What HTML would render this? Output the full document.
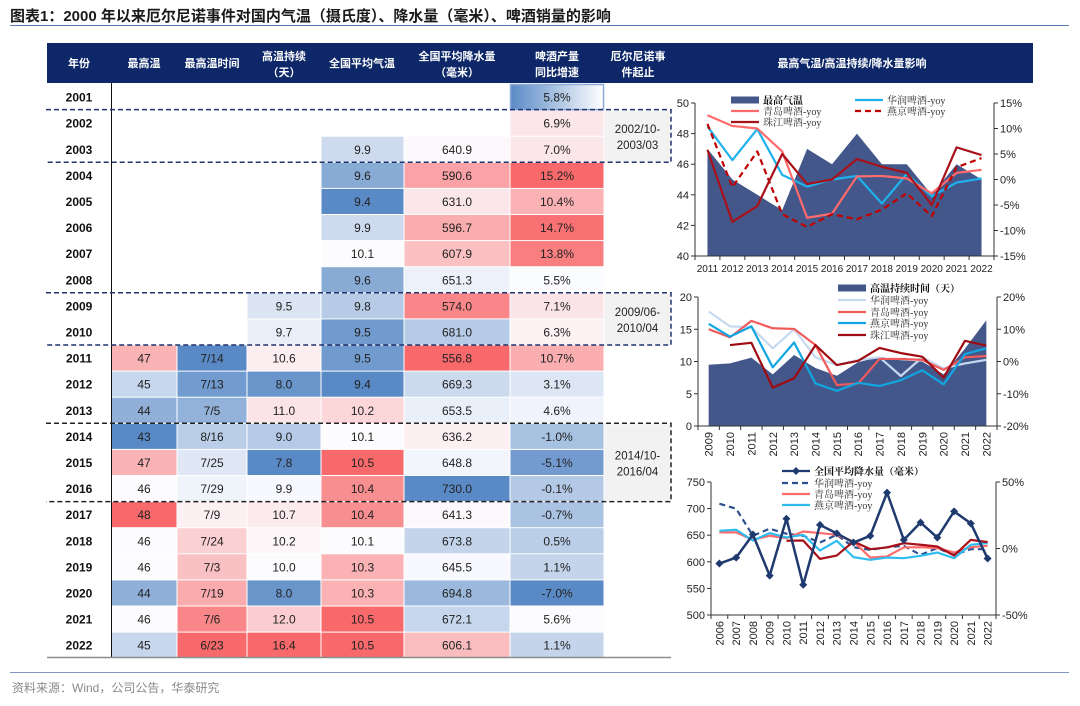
<!DOCTYPE html>
<html><head><meta charset="utf-8">
<style>
html,body{margin:0;padding:0;background:#fff;}
body{width:1080px;height:701px;overflow:hidden;position:relative;font-family:"Liberation Sans","Noto Sans CJK SC",sans-serif;}
svg text{font-family:"Liberation Sans","Noto Sans CJK SC",sans-serif;}
.cn{font-family:"Liberation Serif","Noto Serif CJK SC",serif;}
</style></head>
<body>
<svg id="page" width="1080" height="701" viewBox="0 0 1080 701" xmlns="http://www.w3.org/2000/svg">
  <text x="10" y="21" font-size="15" font-weight="bold" fill="#1a1a1a">图表1：2000 年以来厄尔尼诺事件对国内气温（摄氏度）、降水量（毫米）、啤酒销量的影响</text>
  <line x1="10" y1="25.5" x2="1069" y2="25.5" stroke="#5a7bb0" stroke-width="1"/>
  <rect x="47" y="43" width="986" height="40" fill="#0d2768"/>
  <g class="cn" fill="#fff" font-size="11" font-weight="bold" text-anchor="middle">
    <text x="79" y="67">年份</text>
    <text x="144" y="67">最高温</text>
    <text x="212" y="67">最高温时间</text>
    <text x="284" y="60">高温持续</text>
    <text x="284" y="76">（天）</text>
    <text x="362" y="67">全国平均气温</text>
    <text x="457" y="60">全国平均降水量</text>
    <text x="457" y="76">（毫米）</text>
    <text x="557" y="60">啤酒产量</text>
    <text x="557" y="76">同比增速</text>
    <text x="638" y="60">厄尔尼诺事</text>
    <text x="638" y="76">件起止</text>
    <text x="852" y="67">最高气温/高温持续/降水量影响</text>
  </g>
  <g id="table"></g>
  <g id="charts"></g>
  <line x1="10" y1="672.5" x2="1069" y2="672.5" stroke="#7f96c0" stroke-width="1"/>
  <text x="12" y="692" font-size="12" fill="#8a8a8a">资料来源：Wind，公司公告，华泰研究</text>
</svg>
<script>
// ---------- table data ----------
const tableYears = [2001,2002,2003,2004,2005,2006,2007,2008,2009,2010,2011,2012,2013,2014,2015,2016,2017,2018,2019,2020,2021,2022];
const maxTemp = [null,null,null,null,null,null,null,null,null,null,47,45,44,43,47,46,48,46,46,44,46,45];
const maxTempDate = [null,null,null,null,null,null,null,null,null,null,'7/14','7/13','7/5','8/16','7/25','7/29','7/9','7/24','7/3','7/19','7/6','6/23'];
const maxTempDateShade = [0,0,0,0,0,0,0,0,0,0,-1,-0.85,-0.65,-0.4,-0.18,-0.08,0.08,0.3,0.4,0.55,0.8,1];
const heatDays = [null,null,null,null,null,null,null,null,9.5,9.7,10.6,8.0,11.0,9.0,7.8,9.9,10.7,10.2,10.0,8.0,12.0,16.4];
const avgTemp = [null,null,9.9,9.6,9.4,9.9,10.1,9.6,9.8,9.5,9.5,9.4,10.2,10.1,10.5,10.4,10.4,10.1,10.3,10.3,10.5,10.5];
const rainfall = [null,null,640.9,590.6,631.0,596.7,607.9,651.3,574.0,681.0,556.8,669.3,653.5,636.2,648.8,730.0,641.3,673.8,645.5,694.8,672.1,606.1];
const beerYoy = [5.8,6.9,7.0,15.2,10.4,14.7,13.8,5.5,7.1,6.3,10.7,3.1,4.6,-1.0,-5.1,-0.1,-0.7,0.5,1.1,-7.0,5.6,1.1];
const elninoLabels = [['2002/10-','2003/03'],['2009/06-','2010/04'],['2014/10-','2016/04']];
const elninoRows = [[1,2],[8,9],[13,15]];

// ---------- chart 1 data ----------
const c1Years = [2011,2012,2013,2014,2015,2016,2017,2018,2019,2020,2021,2022];
const c1MaxTemp = [47,45,44,43,47,46,48,46,46,44,46,45];
const c1Huarun = [10.4,3.8,9.9,0.9,-1.4,0,0.7,-4.7,1.1,-3.3,-0.6,0.2];
const c1Tsingtao = [12.6,10.5,10.0,5.5,-7.5,-6.7,0.6,0.7,0.2,-2.7,1.3,1.9];
const c1Yanjing = [10.9,-1.5,5.5,-6.8,-9.3,-6.8,-7.8,-5.9,-2.7,-7.2,2.4,4.2];
const c1Zhujiang = [5.8,-8.3,-5.2,5.0,-0.9,0,4.0,2.5,1.3,-5.0,6.3,4.8];
const c1LeftTicks = [40,42,44,46,48,50];
const c1RightTicks = [-15,-10,-5,0,5,10,15];

// ---------- chart 2 data ----------
const c2Years = [2009,2010,2011,2012,2013,2014,2015,2016,2017,2018,2019,2020,2021,2022];
const c2HeatDays = [9.5,9.7,10.6,8.0,11.0,9.0,7.8,9.9,10.7,10.2,10.0,8.0,12.0,16.4];
const c2Huarun = [15.5,10.9,10.6,4.1,10.0,1.3,-1.1,0.5,1.3,-4.5,1.3,-2.1,-0.6,0.5];
const c2Tsingtao = [10.0,7.5,12.6,10.3,10.1,5.1,-7.3,-6.8,0.8,0.8,0.5,-2.6,1.3,1.7];
const c2Yanjing = [11.7,7.7,10.9,-1.8,5.9,-6.8,-9.1,-6.6,-7.6,-5.8,-2.7,-7.1,2.3,4.1];
const c2Zhujiang = [null,5.1,5.8,-8.1,-5.2,5.1,-1.1,0.2,4.2,2.6,1.5,-5.0,6.4,4.9];
const c2LeftTicks = [0,5,10,15,20];
const c2RightTicks = [-20,-10,0,10,20];

// ---------- chart 3 data ----------
const c3Years = [2006,2007,2008,2009,2010,2011,2012,2013,2014,2015,2016,2017,2018,2019,2020,2021,2022];
const c3Rain = [596.7,607.9,651.3,574.0,681.0,556.8,669.3,653.5,636.2,648.8,730.0,641.3,673.8,645.5,694.8,672.1,606.1];
const c3Huarun = [33.7,29.9,9.6,14.9,11.1,9.6,4.5,10.3,1.0,-1.0,1.0,2.0,-4.8,0.3,-4.8,-0.5,-0.5];
const c3Tsingtao = [12.1,12.1,6.5,9.6,7.8,12.8,11.6,10.3,5.3,-6.8,-6.0,0.8,1.0,0.3,-3.0,1.0,2.0];
const c3Yanjing = [13.3,14.1,6.0,11.6,8.3,10.3,-1.5,5.8,-6.5,-8.5,-6.8,-7.3,-5.5,-3.0,-7.3,2.8,4.0];
const c3Zhujiang = [null,null,null,null,5.8,6.0,-7.8,-5.3,5.3,-0.5,0.8,4.0,2.8,1.5,-5.3,6.5,4.8];
const c3LeftTicks = [500,550,600,650,700,750];
const c3RightTicks = [-50,0,50];

const NS = 'http://www.w3.org/2000/svg';
function mk(tag, attrs, parent){
  const e = document.createElementNS(NS, tag);
  for (const k in attrs) e.setAttribute(k, attrs[k]);
  parent.appendChild(e);
  return e;
}

// ---------- table ----------
const tbl = document.getElementById('table');
const colEdges = [47,111,177,247,321,404,510,604,671];
const rowTop = 84, rowH = 26.1;
const BLUE = [90,138,198], WHITE = [252,252,255], RED = [248,105,107];
function mix(a,b,t){return 'rgb('+a.map((v,i)=>Math.round(v+(b[i]-v)*t)).join(',')+')';}
function shadeColor(s){ return s<0 ? mix(WHITE,BLUE,-s) : mix(WHITE,RED,s); }
function scaleShades(vals, invert){
  const v = vals.filter(x=>x!==null).slice().sort((a,b)=>a-b);
  const n=v.length, mn=v[0], mx=v[n-1];
  const med = n%2 ? v[(n-1)/2] : (v[n/2-1]+v[n/2])/2;
  const sg = invert ? -1 : 1;
  return vals.map(x=> x===null?null : sg*(x<med ? -(med-x)/(med-mn) : (x-med)/(mx-med)));
}
function fmt(col,v){
  if (v===null) return '';
  if (col===1 || col===2) return String(v);
  if (col===6) return v.toFixed(1)+'%';
  return v.toFixed(1);
}
const cols = [null, maxTemp, maxTempDate, heatDays, avgTemp, rainfall, beerYoy];
const shades = [null, scaleShades(maxTemp), maxTempDateShade, scaleShades(heatDays), scaleShades(avgTemp), scaleShades(rainfall, true), scaleShades(beerYoy)];
const colNames = ['year','max-temp','max-temp-date','heat-days','avg-temp','rainfall','beer-yoy'];

const defs = mk('defs', {}, document.getElementById('page'));
const grad = mk('linearGradient', {id:'g58', x1:'0', x2:'1', y1:'0', y2:'0'}, defs);
mk('stop', {offset:'0', 'stop-color':'#5a8ac6'}, grad);
mk('stop', {offset:'1', 'stop-color':'#ffffff'}, grad);

tableYears.forEach((yr,i)=>{
  const y = rowTop + i*rowH;
  const yl = mk('text', {x:79, y:y+rowH/2+4.5, 'font-size':12, 'font-weight':'bold', 'text-anchor':'middle', fill:'#111'}, tbl);
  
  
  yl.textContent = yr;
  for (let c=1;c<=6;c++){
    const v = cols[c][i];
    if (v===null) continue;
    const x0 = colEdges[c], x1 = colEdges[c+1];
    let fill = shadeColor(shades[c][i]);
    if (c===6 && i===0) fill = 'url(#g58)';
    const r = mk('rect', {x:x0+0.5, y:y+0.5, width:x1-x0-1, height:rowH-1, fill:fill}, tbl);
    
    
    if (c===6 && i===0){ r.setAttribute('stroke','#8eaadb'); r.setAttribute('stroke-width','1.5'); }
    const t = mk('text', {x:(x0+x1)/2, y:y+rowH/2+4.5, 'font-size':12, 'text-anchor':'middle', fill:'#222'}, tbl);
    
    
    t.textContent = fmt(c,v);
  }
});
const vline = mk('line', {x1:111.5, y1:83, x2:111.5, y2:657, stroke:'#111', 'stroke-width':1}, tbl);


const bline = mk('line', {x1:47, y1:657.5, x2:671, y2:657.5, stroke:'#8c8c8c', 'stroke-width':1.5}, tbl);



elninoRows.forEach((rr,k)=>{
  const yt = rowTop + rr[0]*rowH + (k===0?-0.5:0);
  const yb = rowTop + (rr[1]+1)*rowH;
  const g = mk('rect', {x:604.5, y:yt+1, width:66, height:yb-yt-2, fill:'#f2f2f2'}, tbl);
  
  
  const col = k===2 ? '#222' : '#1f3370';
  const p = mk('path', {d:'M46,'+yt+' H671 V'+yb+' H46', fill:'none', stroke:col, 'stroke-width':1.5, 'stroke-dasharray':'5,3'}, tbl);
  
  
  const ym = (yt+yb)/2;
  elninoLabels[k].forEach((s,j)=>{
    const t = mk('text', {x:637.5, y:ym-3+j*16, 'font-size':11.5, 'text-anchor':'middle', fill:'#222'}, tbl);
    
    
    t.textContent = s;
  });
});

// ---------- charts ----------
const charts = document.getElementById('charts');
function makeChart(cfg){
  const g = mk('g', {}, charts);
  
  
  const n = cfg.cats.length, step = (cfg.x1-cfg.x0)/n;
  const xc = i => cfg.x0 + step*(i+0.5);
  const yl = v => cfg.yBot - (v-cfg.lMin)/(cfg.lMax-cfg.lMin)*(cfg.yBot-cfg.yTop);
  const yr = v => cfg.yBot - (v-cfg.rMin)/(cfg.rMax-cfg.rMin)*(cfg.yBot-cfg.yTop);
  if (cfg.area){
    let d = 'M'+xc(0)+','+cfg.yBot;
    cfg.area.forEach((v,i)=>{ d += ' L'+xc(i)+','+yl(v); });
    d += ' L'+xc(n-1)+','+cfg.yBot+' Z';
    const a = mk('path', {d:d, fill:'#44578a'}, g);
    
    
  }
  const ax = mk('path', {d:'M'+cfg.x0+','+cfg.yTop+' V'+cfg.yBot+' H'+cfg.x1+' V'+cfg.yTop, fill:'none', stroke:'#333', 'stroke-width':1}, g);
  
  
  cfg.lTicks.forEach(v=>{
    const y = yl(v);
    const tk = mk('line', {x1:cfg.x0-4, y1:y, x2:cfg.x0, y2:y, stroke:'#333'}, g);
    
    
    const t = mk('text', {x:cfg.x0-6, y:y+4, 'font-size':11, 'text-anchor':'end', fill:'#222'}, g);
    
    
    t.textContent = v;
  });
  cfg.rTicks.forEach(v=>{
    const y = yr(v);
    const tk = mk('line', {x1:cfg.x1, y1:y, x2:cfg.x1+4, y2:y, stroke:'#333'}, g);
    
    
    const t = mk('text', {x:cfg.x1+6, y:y+4, 'font-size':11, 'text-anchor':'start', fill:'#222'}, g);
    
    
    t.textContent = v+'%';
  });
  for (let i=0;i<=n;i++){
    const x = cfg.x0+step*i;
    const tk = mk('line', {x1:x, y1:cfg.yBot, x2:x, y2:cfg.yBot+4, stroke:'#333'}, g);
    
    
  }
  cfg.cats.forEach((c,i)=>{
    let t;
    if (cfg.rotate){
      t = mk('text', {x:0, y:0, 'font-size':11, 'text-anchor':'end', fill:'#222', transform:'translate('+(xc(i)+4)+','+(cfg.yBot+6)+') rotate(-90)'}, g);
    } else {
      t = mk('text', {x:xc(i), y:cfg.yBot+16, 'font-size':10, 'text-anchor':'middle', fill:'#222'}, g);
    }
    
    
    t.textContent = c;
  });
  cfg.lines.forEach(L=>{
    let d='', started=false;
    L.data.forEach((v,i)=>{
      if (v===null){ started=false; return; }
      const y = L.left ? yl(v) : yr(v);
      d += (started?' L':'M')+xc(i)+','+y; started=true;
    });
    const p = mk('path', {d:d, fill:'none', stroke:L.color, 'stroke-width':L.w||2.2, 'stroke-linejoin':'round'}, g);
    if (L.dash) p.setAttribute('stroke-dasharray', L.dash);
    
    
    if (L.markers){
      L.data.forEach((v,i)=>{
        const x = xc(i), y = yl(v);
        const m = mk('path', {d:'M'+x+','+(y-4)+' L'+(x+4)+','+y+' L'+x+','+(y+4)+' L'+(x-4)+','+y+' Z', fill:L.color}, g);
        
        
      });
    }
  });
  cfg.legend.forEach(it=>{
    let sw;
    if (it.rect){
      sw = mk('rect', {x:it.x, y:it.y-3.5, width:28, height:7, fill:it.color}, g);
    } else {
      sw = mk('line', {x1:it.x, y1:it.y, x2:it.x+28, y2:it.y, stroke:it.color, 'stroke-width':2.2}, g);
      if (it.dash) sw.setAttribute('stroke-dasharray', it.dash);
    }
    
    
    if (it.marker){
      const cx = it.x+14;
      const m = mk('path', {d:'M'+cx+','+(it.y-4)+' L'+(cx+4)+','+it.y+' L'+cx+','+(it.y+4)+' L'+(cx-4)+','+it.y+' Z', fill:it.color}, g);
      
      
    }
    const t = mk('text', {x:it.x+32, y:it.y+4, 'font-size':10, fill:it.bold?'#111':'#333', 'font-weight':it.bold?'bold':'normal', 'class':'cn'}, g);
    
    
    t.textContent = it.label;
  });
}

makeChart({name:'max-temp-chart', cats:c1Years, x0:695, x1:994, yTop:103, yBot:256,
  lMin:40, lMax:50, rMin:-15, rMax:15, lTicks:c1LeftTicks, rTicks:c1RightTicks, rotate:false,
  area:c1MaxTemp, areaName:'max-temp-area',
  lines:[
    {name:'huarun-yoy-line', data:c1Huarun, color:'#1fb1ec'},
    {name:'tsingtao-yoy-line', data:c1Tsingtao, color:'#ff6b6b'},
    {name:'yanjing-yoy-line', data:c1Yanjing, color:'#c00000', dash:'6,4'},
    {name:'zhujiang-yoy-line', data:c1Zhujiang, color:'#a8101a'}
  ],
  legend:[
    {x:731, y:100, color:'#44578a', rect:true, label:'最高气温', bold:true},
    {x:855, y:100, color:'#1fb1ec', label:'华润啤酒-yoy'},
    {x:731, y:111, color:'#ff6b6b', label:'青岛啤酒-yoy'},
    {x:855, y:111, color:'#c00000', dash:'6,4', label:'燕京啤酒-yoy'},
    {x:731, y:122, color:'#a8101a', label:'珠江啤酒-yoy'}
  ]});

makeChart({name:'heat-days-chart', cats:c2Years, x0:698, x1:997, yTop:297, yBot:426,
  lMin:0, lMax:20, rMin:-20, rMax:20, lTicks:c2LeftTicks, rTicks:c2RightTicks, rotate:true,
  area:c2HeatDays, areaName:'heat-days-area',
  lines:[
    {name:'huarun-yoy-line', data:c2Huarun, color:'#c6d9f0'},
    {name:'tsingtao-yoy-line', data:c2Tsingtao, color:'#f05a5a'},
    {name:'yanjing-yoy-line', data:c2Yanjing, color:'#12a6e0'},
    {name:'zhujiang-yoy-line', data:c2Zhujiang, color:'#9e0b12'}
  ],
  legend:[
    {x:838, y:288, color:'#44578a', rect:true, label:'高温持续时间（天）', bold:true},
    {x:838, y:300, color:'#c6d9f0', label:'华润啤酒-yoy'},
    {x:838, y:312, color:'#f05a5a', label:'青岛啤酒-yoy'},
    {x:838, y:323, color:'#12a6e0', label:'燕京啤酒-yoy'},
    {x:838, y:335, color:'#9e0b12', label:'珠江啤酒-yoy'}
  ]});

makeChart({name:'rainfall-chart', cats:c3Years, x0:711, x1:996, yTop:482, yBot:615,
  lMin:500, lMax:750, rMin:-50, rMax:50, lTicks:c3LeftTicks, rTicks:c3RightTicks, rotate:true,
  area:null,
  lines:[
    {name:'huarun-yoy-line', data:c3Huarun, color:'#2f4f8f', dash:'6,4'},
    {name:'tsingtao-yoy-line', data:c3Tsingtao, color:'#ff6b6b'},
    {name:'yanjing-yoy-line', data:c3Yanjing, color:'#2fbdf0'},
    {name:'zhujiang-yoy-line', data:c3Zhujiang, color:'#a8101a'},
    {name:'rainfall-line', data:c3Rain, color:'#1f3a6e', left:true, markers:true, w:2.5}
  ],
  legend:[
    {x:782, y:471, color:'#1f3a6e', marker:true, label:'全国平均降水量（毫米）', bold:true},
    {x:782, y:483, color:'#2f4f8f', dash:'6,4', label:'华润啤酒-yoy'},
    {x:782, y:494, color:'#ff6b6b', label:'青岛啤酒-yoy'},
    {x:782, y:505, color:'#2fbdf0', label:'燕京啤酒-yoy'}
  ]});
</script>
</body></html>
